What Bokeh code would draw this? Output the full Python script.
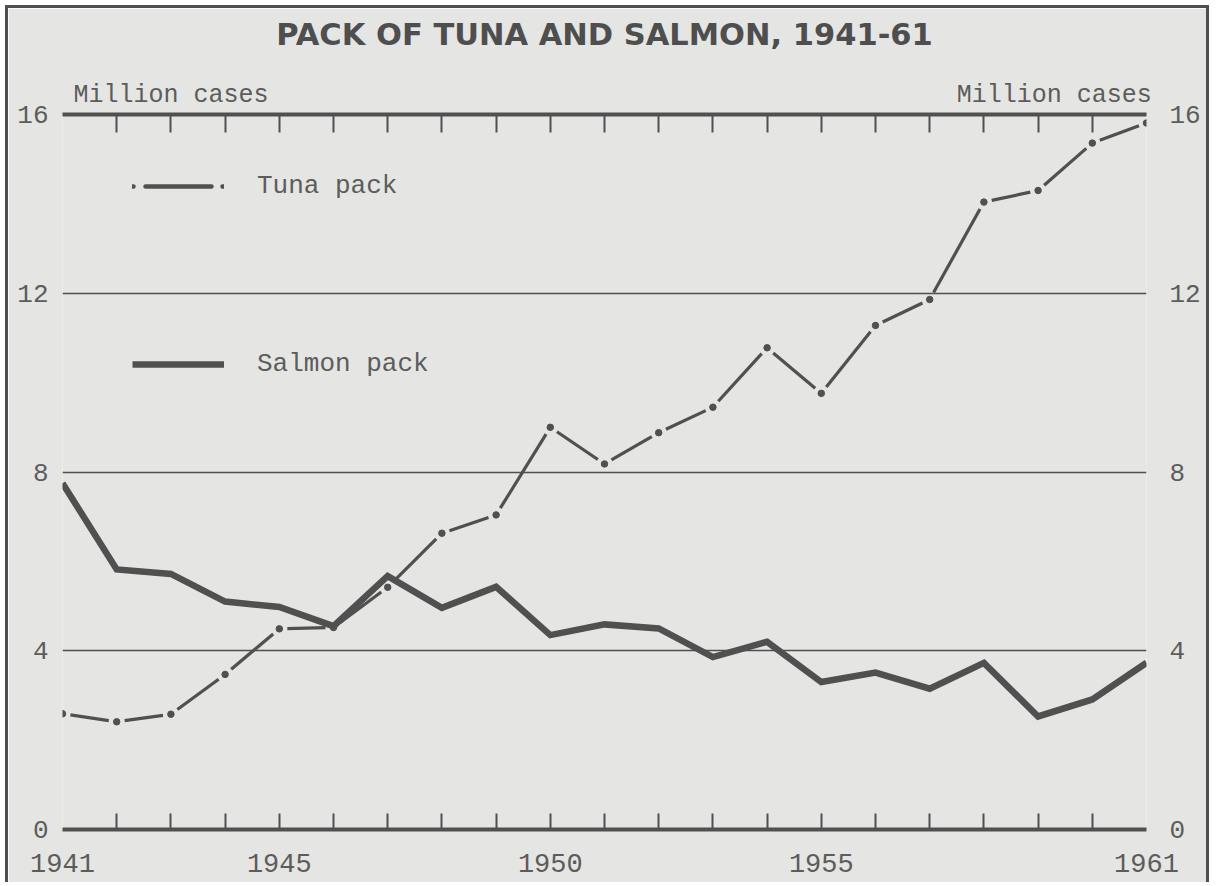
import math
from bokeh.plotting import figure
from bokeh.models import (Range1d, LinearAxis, FixedTicker, Legend,
                          LegendItem, Grid)
from bokeh.embed import file_html
from bokeh.resources import INLINE

# ---------------- data ----------------
years = list(range(1941, 1962))
tuna = [2.59, 2.41, 2.58, 3.47, 4.49, 4.52, 5.42, 6.63, 7.04, 9.00, 8.18,
        8.88, 9.45, 10.78, 9.76, 11.28, 11.86, 14.04, 14.30, 15.36, 15.81]
salmon = [7.75, 5.82, 5.72, 5.10, 4.98, 4.55, 5.67, 4.96, 5.43, 4.35, 4.59,
          4.50, 3.86, 4.20, 3.30, 3.51, 3.15, 3.73, 2.53, 2.91, 3.73]
y_ticks = [0, 4, 8, 12, 16]
x_label_years = [1941, 1945, 1950, 1955, 1961]
x_tick_years = list(range(1942, 1961))
title_text = "PACK OF TUNA AND SALMON, 1941-61"
unit_text = "Million cases"
series_names = ["Tuna pack", "Salmon pack"]

# ---------------- layout / style ----------------
W, H = 1204, 877
ML, MR, MT, MB = 54, 66, 106, 56
FW, FH = W - ML - MR, H - MT - MB
BG = "#e5e5e4"
INK = "#505050"
TXT = "#5c5c5c"
MONO = "Liberation Mono"
# x positions (in years) where the unit captions above the top line sit
unit_pos = [1943, 1959.3]

p = figure(width=W, height=H, output_backend="svg", toolbar_location=None,
           x_range=Range1d(1941, 1961), y_range=Range1d(0, 16),
           x_axis_location=None, y_axis_location=None, title_location=None,
           min_border_left=ML, min_border_right=MR,
           min_border_top=MT, min_border_bottom=MB)
p.background_fill_color = BG
p.border_fill_color = BG
p.outline_line_color = None
p.grid.visible = False
p.styles = {"border-top": "3px solid #4f4f4f", "border-left": "3px solid #4f4f4f",
            "border-right": "3px solid #4f4f4f",
            "margin-left": "5px", "margin-top": "5px"}

def xaxis(ticker, size, standoff):
    return LinearAxis(ticker=ticker, major_tick_in=0, major_tick_out=0,
                      minor_tick_in=16, minor_tick_out=0,
                      minor_tick_line_width=2, minor_tick_line_color=INK,
                      axis_line_width=4, axis_line_color=INK,
                      major_label_text_font=MONO,
                      major_label_text_font_size=size,
                      major_label_text_color=TXT,
                      major_label_standoff=standoff)

p.add_layout(xaxis(FixedTicker(ticks=x_label_years, minor_ticks=x_tick_years),
                   "27px", 24), "below")

# top line: year ticks hanging down, unit captions, chart title above them
top_axis = xaxis(FixedTicker(ticks=unit_pos, minor_ticks=x_tick_years),
                 "25px", 5)
top_axis.minor_tick_in = 18
top_axis.major_label_overrides = {v: unit_text for v in unit_pos}
top_axis.axis_label = title_text
top_axis.axis_label_standoff = 26
top_axis.axis_label_text_font = "DejaVu Sans"
top_axis.axis_label_text_font_style = "bold"
top_axis.axis_label_text_font_size = "30.5px"
top_axis.axis_label_text_color = "#4e4e4e"
p.add_layout(top_axis, "above")

def yaxis(standoff):
    return LinearAxis(ticker=FixedTicker(ticks=y_ticks), major_tick_in=0,
                      major_tick_out=0, minor_tick_in=0, minor_tick_out=0,
                      axis_line_color=None,
                      major_label_text_font=MONO,
                      major_label_text_font_size="26px",
                      major_label_text_color=TXT,
                      major_label_standoff=standoff)

p.add_layout(yaxis(14), "left")
p.add_layout(yaxis(23), "right")

p.add_layout(Grid(dimension=1, ticker=FixedTicker(ticks=y_ticks),
                  grid_line_color=INK, grid_line_width=1.6))

# ---------------- tuna: dash segments between points + dots ----------------
ppx, ppy = FW / 20.0, FH / 16.0
gap = 8.0
x0, y0, x1, y1 = [], [], [], []
for i in range(len(years) - 1):
    dx = years[i + 1] - years[i]
    dy = tuna[i + 1] - tuna[i]
    L = math.hypot(dx * ppx, dy * ppy)
    f = gap / L
    x0.append(years[i] + f * dx); y0.append(tuna[i] + f * dy)
    x1.append(years[i + 1] - f * dx); y1.append(tuna[i + 1] - f * dy)
p.segment(x0, y0, x1, y1, line_width=3.2, line_color=INK)
p.scatter(years, tuna, size=6.5, color=INK)

# legend key for tuna: a one-point line (draws nothing in the plot)
tuna_key = p.line(x=years[:1], y=tuna[:1], line_width=4.5, line_color=INK,
                  line_dash="1 12 66 11 1", line_cap="round")

# ---------------- salmon ----------------
salmon_r = p.line(years, salmon, line_width=6.5, line_color=INK,
                  line_join="miter")

legend = Legend(items=[LegendItem(label=series_names[0], renderers=[tuna_key]),
                       LegendItem(label=series_names[1], renderers=[salmon_r])],
                location=(70, 449), padding=0, margin=0, spacing=146,
                glyph_width=92, glyph_height=32, label_height=32,
                label_standoff=33, label_text_font=MONO,
                label_text_font_size="26px", label_text_color=TXT,
                border_line_color=None, background_fill_alpha=0)
p.add_layout(legend)

open("out.html", "w").write(file_html(p, INLINE))
